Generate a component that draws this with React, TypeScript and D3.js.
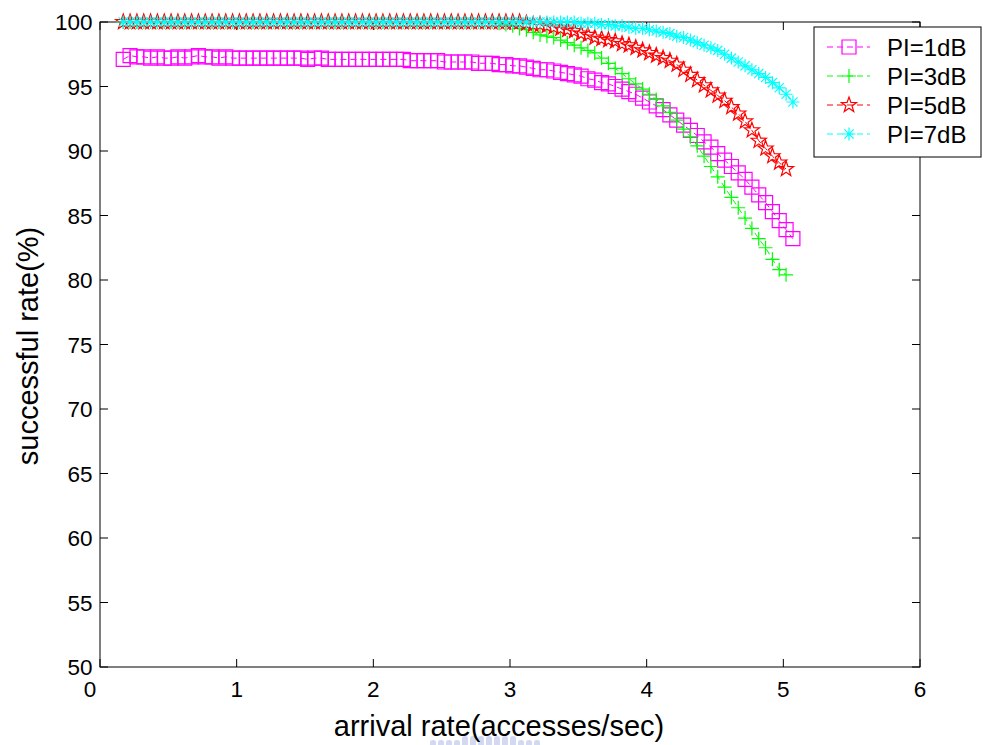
import React from "react";
import * as d3 from "d3";

const X = [0.17,0.22,0.27,0.32,0.37,0.42,0.47,0.52,0.57,0.62,0.67,0.72,0.77,0.82,0.87,0.92,0.97,1.02,1.07,1.12,1.17,1.22,1.27,1.32,1.37,1.42,1.47,1.52,1.57,1.62,1.67,1.72,1.77,1.82,1.87,1.92,1.97,2.02,2.07,2.12,2.17,2.22,2.27,2.32,2.37,2.42,2.47,2.52,2.57,2.62,2.67,2.72,2.77,2.82,2.87,2.92,2.97,3.02,3.07,3.12,3.17,3.22,3.27,3.32,3.37,3.42,3.47,3.52,3.57,3.62,3.67,3.72,3.77,3.82,3.87,3.92,3.97,4.02,4.07,4.12,4.17,4.22,4.27,4.32,4.37,4.42,4.47,4.52,4.57,4.62,4.67,4.72,4.77,4.82,4.87,4.92,4.97,5.02,5.07];

const PI1 = [
  97.1,97.4,97.3,97.3,97.2,97.3,97.2,97.2,97.3,97.2,
  97.3,97.4,97.3,97.3,97.2,97.3,97.2,97.2,97.2,97.2,
  97.2,97.2,97.2,97.2,97.2,97.2,97.2,97.1,97.2,97.2,
  97.1,97.1,97.1,97.1,97.1,97.1,97.1,97.1,97.1,97.1,
  97.1,97.1,97.0,97.0,97.0,97.0,97.0,96.9,96.9,96.9,
  96.9,96.9,96.8,96.8,96.8,96.7,96.7,96.6,96.6,96.5,
  96.4,96.3,96.3,96.2,96.1,96.0,95.9,95.8,95.6,95.5,
  95.3,95.2,95.0,94.8,94.6,94.4,94.1,93.8,93.5,93.2,
  92.8,92.4,92.0,91.6,91.2,90.7,90.3,89.8,89.3,88.8,
  88.3,87.8,87.2,86.6,86.0,85.3,84.6,83.9,83.2
];

const PI3 = [
  100,100,100,100,100,100,100,100,100,100,
  100,100,100,100,100,100,100,100,100,100,
  100,100,100,100,100,100,100,100,100,100,
  100,100,100,100,100,100,100,100,100,100,
  100,100,100,100,100,100,100,100,100,100,
  100,100,100,100,100,99.9,99.8,99.7,99.5,99.4,
  99.2,99.0,98.9,98.8,98.6,98.4,98.2,98.0,97.8,97.6,
  97.2,96.8,96.4,96.0,95.6,95.2,94.8,94.4,94.0,93.5,
  93.0,92.4,91.7,91.1,90.4,89.6,88.8,88.0,87.2,86.4,
  85.6,84.8,84.0,83.2,82.5,81.6,80.8,80.4
];

const PI5 = [
  100,100,100,100,100,100,100,100,100,100,
  100,100,100,100,100,100,100,100,100,100,
  100,100,100,100,100,100,100,100,100,100,
  100,100,100,100,100,100,100,100,100,100,
  100,100,100,100,100,100,100,100,100,100,
  100,100,100,100,100,100,100,100,100,99.9,
  99.8,99.8,99.7,99.6,99.5,99.4,99.3,99.1,99.0,98.8,
  98.7,98.6,98.5,98.3,98.2,98.0,97.8,97.6,97.4,97.2,
  97.0,96.7,96.3,95.9,95.5,95.1,94.7,94.3,93.9,93.4,
  92.9,92.3,91.6,90.8,90.2,89.6,89.1,88.6
];

const PI7 = [
  100,100,100,100,100,100,100,100,100,100,
  100,100,100,100,100,100,100,100,100,100,
  100,100,100,100,100,100,100,100,100,100,
  100,100,100,100,100,100,100,100,100,100,
  100,100,100,100,100,100,100,100,100,100,
  100,100,100,100,100,100,100,100,100,100,
  100,100,100,100,100,100,100,99.9,99.9,99.9,
  99.8,99.8,99.7,99.7,99.6,99.5,99.5,99.4,99.3,99.2,
  99.1,98.9,98.8,98.6,98.4,98.2,98.0,97.8,97.5,97.2,
  96.9,96.6,96.3,96.0,95.7,95.3,94.9,94.4,93.8
];

const SERIES_NAMES = ["PI=1dB", "PI=3dB", "PI=5dB", "PI=7dB"];
const SERIES_VALUES = [PI1, PI3, PI5, PI7];
const SERIES_COLORS = ["#ff00ff", "#00ff00", "#ff0000", "#00ffff"];
const SERIES_MARKERS = ["square", "plus", "star", "asterisk"];

const X_TICKS = [0, 1, 2, 3, 4, 5, 6];
const Y_TICKS = [50, 55, 60, 65, 70, 75, 80, 85, 90, 95, 100];

const W = 983;
const H = 745;
const FONT = "'Liberation Sans', Arial, Helvetica, sans-serif";

function starPath(ro: number, ri: number) {
  const pts: [number, number][] = [];
  for (let i = 0; i < 10; i++) {
    const r = i % 2 === 0 ? ro : ri;
    const a = -Math.PI / 2 + (i * Math.PI) / 5;
    pts.push([r * Math.cos(a), r * Math.sin(a)]);
  }
  return "M" + pts.map((p) => p[0].toFixed(2) + "," + p[1].toFixed(2)).join("L") + "Z";
}

function markerPath(kind: string) {
  switch (kind) {
    case "square":
      return "M-7,-7H7V7H-7Z";
    case "plus":
      return "M-7,0H7M0,-7V7";
    case "star":
      return starPath(8, 3.2);
    case "asterisk":
      return "M-6.5,0H6.5M0,-6.5V6.5M-4.6,-4.6L4.6,4.6M-4.6,4.6L4.6,-4.6";
    default:
      return "";
  }
}

export default function App() {
  const x = d3.scaleLinear().domain([0, 6]).range([100, 920]);
  const y = d3.scaleLinear().domain([50, 100]).range([667, 22]);
  const [x0, x1] = x.range();
  const [y0, y1] = y.range();
  const tickLen = 8;

  const line = d3
    .line<[number, number]>()
    .x((d) => x(d[0]))
    .y((d) => y(d[1]));

  return (
    <svg
      width={W}
      height={H}
      style={{ position: "absolute", left: 0, top: 0, background: "#fff" }}
      fontFamily={FONT}
    >
      <rect x={0} y={0} width={W} height={H} fill="#fff" />

      {/* faint watermark at bottom */}
      <g opacity={0.35} fill="#7f95d8">
        {d3.range(0, 14).map((i) => (
          <rect
            key={i}
            x={430 + i * 8}
            y={740 - (i > 3 && i < 11 ? 4 : 0)}
            width={6}
            height={14}
            rx={2.5}
          />
        ))}
      </g>

      {/* axes box */}
      <rect x={x0} y={y1} width={x1 - x0} height={y0 - y1} fill="none" stroke="#000" strokeWidth={1} />

      {/* x ticks */}
      {X_TICKS.map((t) => (
        <g key={"xt" + t}>
          <line x1={x(t)} x2={x(t)} y1={y0} y2={y0 - tickLen} stroke="#000" />
          <line x1={x(t)} x2={x(t)} y1={y1} y2={y1 + tickLen} stroke="#000" />
          <text
            x={x(t) + (t === 0 ? -10 : 0)}
            y={697}
            textAnchor="middle"
            fontSize={22.5}
            fill="#000"
          >
            {t}
          </text>
        </g>
      ))}

      {/* y ticks */}
      {Y_TICKS.map((t) => (
        <g key={"yt" + t}>
          <line x1={x0} x2={x0 + tickLen} y1={y(t)} y2={y(t)} stroke="#000" />
          <line x1={x1} x2={x1 - tickLen} y1={y(t)} y2={y(t)} stroke="#000" />
          <text x={92.5} y={y(t) + 8} textAnchor="end" fontSize={22.5} fill="#000">
            {t}
          </text>
        </g>
      ))}

      {/* series */}
      {SERIES_VALUES.map((vals, si) => {
        const pts: [number, number][] = vals.map((v, i) => [X[i], v]);
        const color = SERIES_COLORS[si];
        const mp = markerPath(SERIES_MARKERS[si]);
        return (
          <g key={"s" + si}>
            <path d={line(pts) || ""} fill="none" stroke={color} strokeWidth={1} strokeDasharray="6 4" />
            {pts.map((p, i) => (
              <path
                key={i}
                d={mp}
                transform={`translate(${x(p[0])},${y(p[1])})`}
                fill="none"
                stroke={color}
                strokeWidth={1.2}
              />
            ))}
          </g>
        );
      })}

      {/* axis labels */}
      <text x={499} y={736} textAnchor="middle" fontSize={29} fill="#000">
        arrival rate(accesses/sec)
      </text>
      <text
        transform="translate(38,346) rotate(-90)"
        textAnchor="middle"
        fontSize={29}
        fill="#000"
      >
        successful rate(%)
      </text>

      {/* legend */}
      <g>
        <rect x={814} y={27} width={167} height={130} fill="#fff" stroke="#000" strokeWidth={1} />
        {SERIES_NAMES.map((name, i) => {
          const cy = 47 + i * 29;
          const color = SERIES_COLORS[i];
          return (
            <g key={"lg" + i}>
              <line x1={827} x2={870} y1={cy} y2={cy} stroke={color} strokeWidth={1} strokeDasharray="6 4" />
              <path
                d={markerPath(SERIES_MARKERS[i])}
                transform={`translate(849,${cy})`}
                fill="none"
                stroke={color}
                strokeWidth={1.2}
              />
              <text x={887} y={cy + 8.5} fontSize={24} fill="#000">
                {name}
              </text>
            </g>
          );
        })}
      </g>
    </svg>
  );
}
